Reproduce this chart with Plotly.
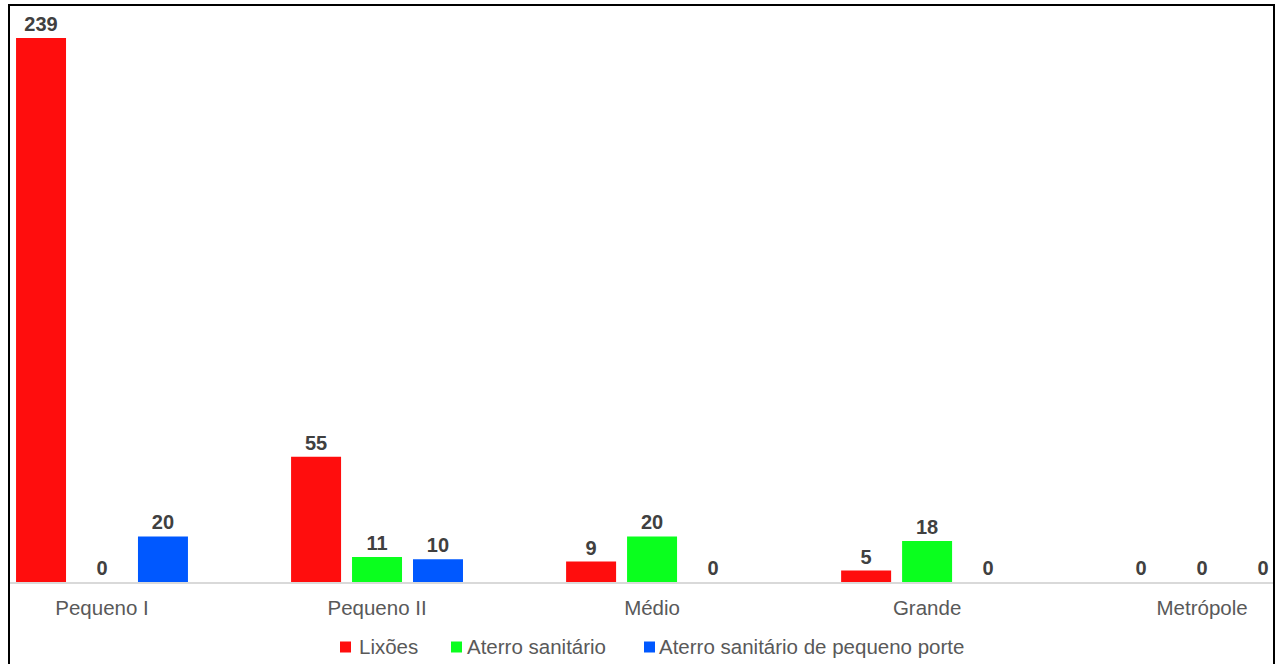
import plotly.graph_objects as go

categories = ["Pequeno I", "Pequeno II", "Médio", "Grande", "Metrópole"]
lixoes = [239, 55, 9, 5, 0]
aterro = [0, 11, 20, 18, 0]
aterro_pp = [20, 10, 0, 0, 0]

series = [
    ("Lixões", lixoes, "#FF0D0D"),
    ("Aterro sanitário", aterro, "#0AFF1E"),
    ("Aterro sanitário de pequeno porte", aterro_pp, "#0058FF"),
]

FONT = "Liberation Sans, Arial, sans-serif"

fig = go.Figure()
for name, vals, col in series:
    fig.add_trace(go.Bar(
        name=name, x=categories, y=vals,
        marker=dict(color=col, line=dict(width=0)),
        text=[str(v) for v in vals], textposition="outside",
        textfont=dict(family=FONT, size=20, color="#404040", weight="bold"),
        cliponaxis=False, showlegend=False,
    ))

W, H = 1280, 664
L, R, T, B = 10, 5, 10, 82
pw = W - L - R
ph = H - T - B

def px_x(p):
    return (p - L) / pw

def px_y(p):
    return (H - B - p) / ph

fig.update_layout(
    width=W, height=H,
    margin=dict(l=L, r=R, t=T, b=B, autoexpand=False),
    paper_bgcolor="white", plot_bgcolor="white",
    barmode="group", bargap=0.335, bargroupgap=0.18,
    font=dict(family=FONT, color="#595959"),
    xaxis=dict(
        type="category", range=[-0.3345, 4.265],
        showline=True, linecolor="#D9D9D9", linewidth=1.5,
        ticks="", tickfont=dict(family=FONT, size=20.5, color="#595959"),
        ticklabelstandoff=7,
        showgrid=False, zeroline=False,
    ),
    yaxis=dict(range=[0, 251.3], visible=False, showgrid=False, zeroline=False),
    showlegend=False,
)

# manual legend (square swatch + text), matching the original spacing
legend_items = [
    ("Lixões", "#FF0D0D", 340, 357),
    ("Aterro sanitário", "#0AFF1E", 451, 465),
    ("Aterro sanitário de pequeno porte", "#0058FF", 644, 657),
]
for label, col, sx, tx in legend_items:
    fig.add_shape(type="rect", xref="paper", yref="paper",
                  x0=px_x(sx), x1=px_x(sx + 11), y0=px_y(652.5), y1=px_y(641.5),
                  line=dict(width=0), fillcolor=col)
    fig.add_annotation(xref="paper", yref="paper", x=px_x(tx), y=px_y(647),
                       xanchor="left", yanchor="middle", showarrow=False,
                       text=label, font=dict(family=FONT, size=20.5, color="#595959"))

# outer chart border (open at the bottom, as in the cropped original)
fig.add_shape(type="path", xref="paper", yref="paper",
              path=f"M {px_x(9)} {px_y(670)} L {px_x(9)} {px_y(5)} L {px_x(1274)} {px_y(5)} L {px_x(1274)} {px_y(670)}",
              line=dict(color="black", width=2), layer="above")

fig.write_html("out.html")
